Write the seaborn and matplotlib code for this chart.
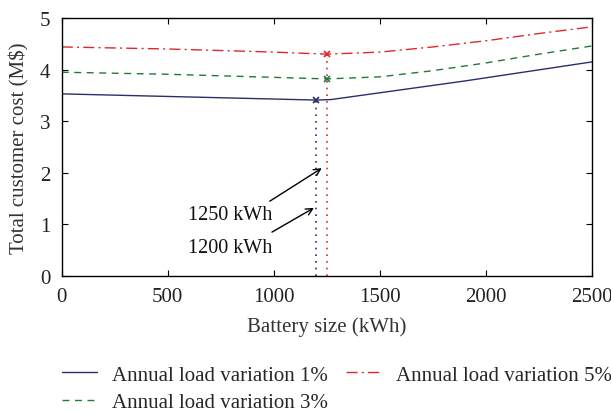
import numpy as np
import pandas as pd
import seaborn as sns
import matplotlib.pyplot as plt

# Battery sizes (kWh) and total customer costs (M$)
size_1 = [0, 600, 1200, 1270, 1900, 2500]
cost_1 = [3.53, 3.47, 3.41, 3.42, 3.78, 4.15]
size_3 = [0, 500, 1000, 1250, 1500, 1750, 2000, 2250, 2500]
cost_3 = [3.95, 3.91, 3.85, 3.82, 3.86, 3.98, 4.13, 4.30, 4.46]
size_5 = [0, 500, 1000, 1250, 1500, 1750, 2000, 2250, 2500]
cost_5 = [4.44, 4.40, 4.34, 4.30, 4.34, 4.44, 4.56, 4.70, 4.83]
labels = ["Annual load variation 1%", "Annual load variation 3%", "Annual load variation 5%"]
opt_size = [1200, 1250, 1250]
opt_cost = [3.41, 3.82, 4.30]

sns.set_theme(style="ticks")
plt.rcParams["font.family"] = ["Liberation Serif", "DejaVu Serif"]

colors = ["#2a2f6b", "#1f7a3a", "#dc2a2c"]
styles = ["-", (0, (5, 4)), (0, (8, 3, 1.5, 3))]
FS = 15

fig = plt.figure(figsize=(6.11, 4.14), dpi=100)
ax = fig.add_axes([0.101, 0.331, 0.868, 0.623])

frames = [pd.DataFrame({"size": s, "cost": c}) for s, c in
          [(size_1, cost_1), (size_3, cost_3), (size_5, cost_5)]]
for df, lab, col, ls in zip(frames, labels, colors, styles):
    sns.lineplot(data=df, x="size", y="cost", ax=ax, color=col, label=lab,
                 linewidth=1.0, linestyle=ls)

# optimum markers and guide lines
for xs, ys, col in zip(opt_size, opt_cost, colors):
    ax.plot([xs], [ys], marker="x", color=col, markersize=5, mew=1.2, linestyle="none")
ax.plot([opt_size[0], opt_size[0]], [0, opt_cost[0]], linestyle=(0, (1, 3)), color=colors[0], lw=1.2)
ax.plot([opt_size[2], opt_size[2]], [0, opt_cost[2]], linestyle=(0, (1, 3)), color=colors[2], lw=1.2)

# callouts for the optimal battery sizes
arrow = dict(arrowstyle="->", color="black", lw=1.0, shrinkA=0, shrinkB=0)
ax.annotate("", xy=(1226, 2.09), xytext=(981, 1.45), arrowprops=arrow)
ax.annotate("", xy=(1189, 1.32), xytext=(991, 0.85), arrowprops=arrow)
ax.text(792, 1.20, "1250 kWh", ha="center", va="center", fontsize=14.5, color="#111111")
ax.text(792, 0.56, "1200 kWh", ha="center", va="center", fontsize=14.5, color="#111111")

ax.set_xlim(0, 2500)
ax.set_ylim(0, 5)
ax.set_xticks([0, 500, 1000, 1500, 2000, 2500])
ax.set_yticks([0, 1, 2, 3, 4, 5])
ax.tick_params(direction="in", top=True, right=True, labelsize=FS, colors="black",
               labelcolor="#222222", length=4, width=0.8, pad=8)
for sp in ax.spines.values():
    sp.set_visible(True)
    sp.set_color("black")
    sp.set_linewidth(1.0)
ax.set_xlabel("Battery size (kWh)", fontsize=FS, color="#333333", labelpad=7)
ax.set_ylabel("Total customer cost (M$)", fontsize=FS, color="#333333", labelpad=8)

handles, labs = ax.get_legend_handles_labels()
ax.get_legend().remove()
fig.legend(handles[:3], labs[:3], ncol=2, loc="upper left", bbox_to_anchor=(62 / 611, 1 - 366 / 414),
           frameon=False, fontsize=FS, handlelength=1.68, columnspacing=0.87,
           labelspacing=0.38, handletextpad=0.72, borderpad=0, borderaxespad=0)

fig.savefig("out.png", dpi=100)
